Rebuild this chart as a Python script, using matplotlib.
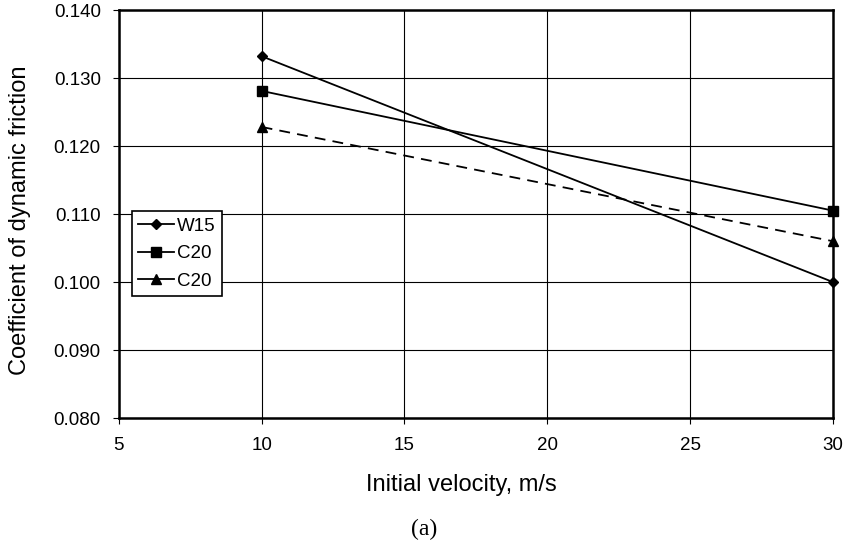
import matplotlib
matplotlib.use("Agg")
from matplotlib import pyplot as plt
from matplotlib.lines import Line2D

plt.rcParams["font.family"] = ["Liberation Sans", "DejaVu Sans"]

velocity = [10, 30]
w15 = [0.1332, 0.1000]
c20_sq = [0.1281, 0.1105]
c20_tri = [0.1228, 0.1060]
labels = ["W15", "C20", "C20"]

fig = plt.figure(figsize=(8.49, 5.44), dpi=100)
ax = fig.add_axes([0.140, 0.2316, 0.841, 0.75])

ax.plot(velocity, w15, "-", color="black", marker="D", markersize=5, lw=1.3,
        clip_on=False, zorder=3)
ax.plot(velocity, c20_sq, "-", color="black", marker="s", markersize=7, lw=1.3,
        clip_on=False, zorder=3)
ax.plot(velocity, c20_tri, "--", color="black", marker="^", markersize=7,
        lw=1.3, dashes=(6, 4), clip_on=False, zorder=3)

ax.set_xlim(5, 30)
ax.set_ylim(0.080, 0.140)
ax.set_xticks([5, 10, 15, 20, 25, 30])
ax.set_yticks([0.080, 0.090, 0.100, 0.110, 0.120, 0.130, 0.140])
ax.yaxis.set_major_formatter(matplotlib.ticker.FormatStrFormatter("%.3f"))
ax.grid(True, color="black", lw=0.8)
ax.set_axisbelow(True)
for s in ax.spines.values():
    s.set_linewidth(1.8)
ax.tick_params(direction="out", length=4, width=0.8, labelsize=13.5)
ax.tick_params(axis="x", pad=10)
ax.tick_params(axis="y", pad=9)

ax.set_xlabel("Initial velocity, m/s", fontsize=17, va="center")
ax.set_ylabel("Coefficient of dynamic friction", fontsize=17, va="center")
ax.xaxis.set_label_coords(0.48, -0.164)
ax.yaxis.set_label_coords(-0.139, 0.485)

handles = [
    Line2D([], [], color="black", lw=1.3, marker="D", markersize=5),
    Line2D([], [], color="black", lw=1.3, marker="s", markersize=7),
    Line2D([], [], color="black", lw=1.3, marker="^", markersize=7),
]
leg = ax.legend(handles, labels, loc="upper left",
                bbox_to_anchor=(0.018, 0.507), fontsize=13.5,
                fancybox=False, shadow=False, framealpha=1,
                edgecolor="black", handlelength=1.9, handletextpad=0.15,
                borderpad=0.35, labelspacing=0.55, borderaxespad=0)
leg.get_frame().set_linewidth(1.2)

fig.text(0.4994, 0.027, "(a)", family=["Liberation Serif", "DejaVu Serif"],
         fontsize=17, ha="center", va="center")

fig.savefig("out.png", dpi=100)
